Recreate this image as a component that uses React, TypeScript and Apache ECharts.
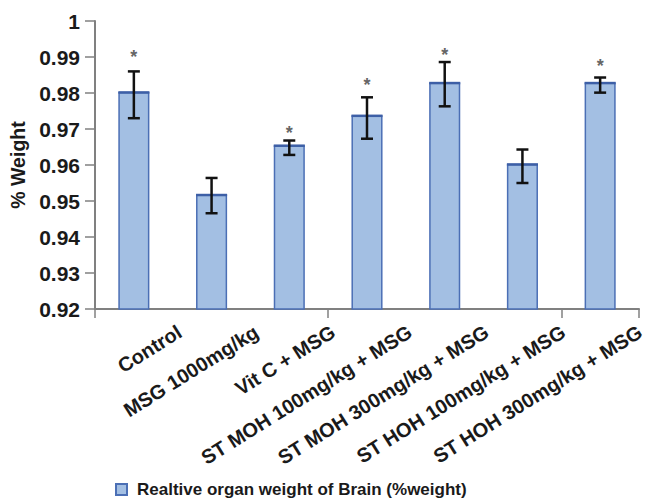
import React, { useEffect, useRef } from "react";
import * as echarts from "echarts";

const categories = [
  "Control",
  "MSG 1000mg/kg",
  "Vit C + MSG",
  "ST MOH 100mg/kg + MSG",
  "ST MOH 300mg/kg + MSG",
  "ST HOH 100mg/kg + MSG",
  "ST HOH 300mg/kg + MSG",
];
const meanValues = [0.9803, 0.9518, 0.9655, 0.9738, 0.9829, 0.9603, 0.9829];
const errLow = [0.973, 0.9466, 0.9628, 0.9673, 0.9763, 0.955, 0.9801];
const errHigh = [0.986, 0.9564, 0.9668, 0.9788, 0.9886, 0.9643, 0.9843];
// level (in axis units) at which the significance asterisk sits; null = none
const starLevel = [0.991, null, 0.97, 0.9833, 0.9916, null, 0.9885];
const seriesName = "Realtive organ weight of Brain (%weight)";
const yTicks = [0.92, 0.93, 0.94, 0.95, 0.96, 0.97, 0.98, 0.99, 1];

const FONT = 'Arial, "Liberation Sans", Helvetica, sans-serif';
const AXIS_GRAY = "#808080";
const TEXT = "#1a1a1a";
const BAR_WIDTH_RATIO = 0.4;

export default function App() {
  const ref = useRef<HTMLDivElement>(null);
  useEffect(() => {
    if (!ref.current) return;
    const chart = echarts.init(ref.current, null, { renderer: "svg" });
    const errData = categories.map((_, i) => [
      i,
      errLow[i],
      errHigh[i],
      starLevel[i] === null ? NaN : (starLevel[i] as number),
      meanValues[i],
    ]);
    chart.setOption({
      animation: false,
      backgroundColor: "#ffffff",
      grid: [
        { left: 95, right: 9, top: 21, bottom: 189, containLabel: false },
        { left: 103, right: 1, top: 21, bottom: 189, containLabel: false },
      ],
      legend: {
        show: true,
        left: 110,
        top: 476,
        itemWidth: 11,
        itemHeight: 11,
        icon: "rect",
        data: [seriesName],
        textStyle: {
          fontFamily: FONT,
          fontWeight: "bold",
          fontSize: 17,
          color: TEXT,
          padding: [0, 0, 0, 5],
        },
      },
      xAxis: [
        {
          type: "category",
          gridIndex: 0,
          data: categories,
          boundaryGap: true,
          axisLine: { show: true, lineStyle: { color: AXIS_GRAY, width: 2 } },
          axisTick: { show: true, length: 9, lineStyle: { color: AXIS_GRAY, width: 1.5 } },
          axisLabel: { show: false },
          splitLine: { show: false },
        },
        {
          type: "category",
          gridIndex: 1,
          data: ["", ...categories],
          boundaryGap: false,
          position: "bottom",
          axisLine: { show: false },
          axisTick: { show: false },
          splitLine: { show: false },
          axisLabel: {
            show: true,
            interval: 0,
            rotate: 32,
            margin: 21,
            fontFamily: FONT,
            fontWeight: "bold",
            fontSize: 20,
            color: TEXT,
          },
        },
      ],
      yAxis: [
        {
          type: "value",
          gridIndex: 0,
          min: 0.92,
          max: 1,
          interval: 0.01,
          name: "% Weight",
          nameLocation: "middle",
          nameGap: 63,
          nameTextStyle: { fontFamily: FONT, fontWeight: "bold", fontSize: 19.5, color: TEXT },
          axisLine: { show: true, lineStyle: { color: AXIS_GRAY, width: 2 } },
          axisTick: { show: true, length: 10, lineStyle: { color: AXIS_GRAY, width: 1.5 } },
          splitLine: { show: false },
          axisLabel: {
            margin: 15,
            fontFamily: FONT,
            fontWeight: "bold",
            fontSize: 21,
            color: TEXT,
            formatter: (v: number) => {
              const t = yTicks.find((x) => Math.abs(x - v) < 1e-6);
              if (t === undefined) return "";
              return t === 1 ? "1" : t.toFixed(2);
            },
          },
        },
        {
          type: "value",
          gridIndex: 1,
          min: 0.92,
          max: 1,
          show: false,
        },
      ],
      series: [
        {
          name: seriesName,
          type: "bar",
          xAxisIndex: 0,
          yAxisIndex: 0,
          data: meanValues,
          barWidth: BAR_WIDTH_RATIO * 100 + "%",
          itemStyle: { color: "#a3bfe3", borderColor: "#4b6fb5", borderWidth: 1.5 },
        },
        {
          type: "custom",
          xAxisIndex: 0,
          yAxisIndex: 0,
          data: errData,
          z: 10,
          renderItem: (params: any, api: any) => {
            const x = api.value(0);
            const lo = api.coord([x, api.value(1)]);
            const hi = api.coord([x, api.value(2)]);
            const top = api.coord([x, api.value(4)]);
            const half = (api.size([1, 0])[0] * BAR_WIDTH_RATIO) / 2;
            const cap = 6;
            const style = { stroke: "#111111", lineWidth: 2.5 };
            const children: any[] = [
              {
                type: "line",
                shape: { x1: top[0] - half, y1: top[1] + 0.5, x2: top[0] + half, y2: top[1] + 0.5 },
                style: { stroke: "#3d5fa6", lineWidth: 2.5 },
              },
              { type: "line", shape: { x1: lo[0], y1: lo[1], x2: hi[0], y2: hi[1] }, style },
              { type: "line", shape: { x1: lo[0] - cap, y1: lo[1], x2: lo[0] + cap, y2: lo[1] }, style },
              { type: "line", shape: { x1: hi[0] - cap, y1: hi[1], x2: hi[0] + cap, y2: hi[1] }, style },
            ];
            const s = api.value(3);
            if (!isNaN(s)) {
              const sp = api.coord([x, s]);
              children.push({
                type: "text",
                x: sp[0],
                y: sp[1] + 4,
                style: {
                  text: "*",
                  fontFamily: FONT,
                  fontSize: 18,
                  fontWeight: "bold",
                  fill: "#666666",
                  align: "center",
                  verticalAlign: "middle",
                },
              });
            }
            return { type: "group", children };
          },
        },
      ],
    });
    return () => chart.dispose();
  }, []);
  return (
    <div
      ref={ref}
      style={{ position: "fixed", left: 0, top: 0, width: 648, height: 498, background: "#fff" }}
    />
  );
}
